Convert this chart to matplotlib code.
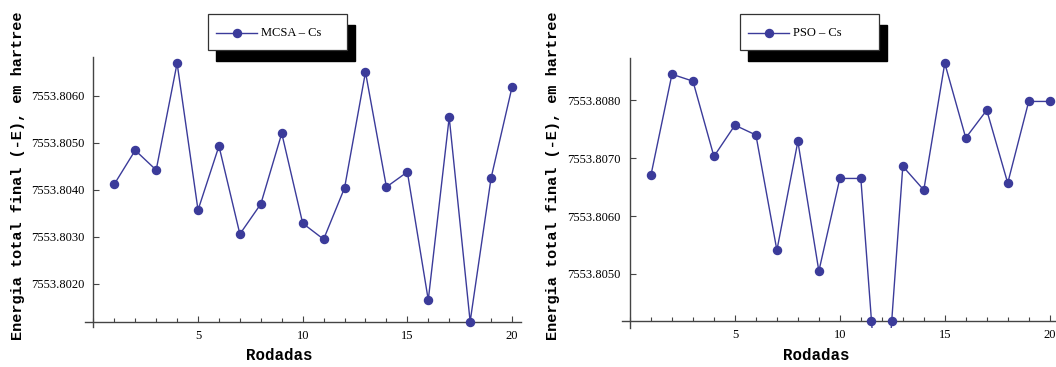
import numpy as np
import matplotlib
matplotlib.use("Agg")
import matplotlib.pyplot as plt
from matplotlib.patches import Rectangle
from matplotlib.lines import Line2D
from matplotlib.ticker import FixedLocator, MultipleLocator, FuncFormatter

# Run index (x) and final total energy (-E, hartree) for each optimiser
rodadas = list(range(1, 21))
mcsa_cs = [7553.80412, 7553.80484, 7553.80442, 7553.80669, 7553.80357,
           7553.80493, 7553.80306, 7553.80370, 7553.80520, 7553.80329,
           7553.80295, 7553.80404, 7553.80650, 7553.80406, 7553.80438,
           7553.80166, 7553.80554, 7553.80120, 7553.80425, 7553.80618]
pso_cs = [7553.80671, 7553.80845, 7553.80833, 7553.80703, 7553.80757,
          7553.80740, 7553.80541, 7553.80729, 7553.80505, 7553.80665,
          7553.80665, 7553.80180, 7553.80686, 7553.80645, 7553.80864,
          7553.80735, 7553.80783, 7553.80657, 7553.80798, 7553.80798]
mcsa_yticks = [7553.8020, 7553.8030, 7553.8040, 7553.8050, 7553.8060]
pso_yticks = [7553.8050, 7553.8060, 7553.8070, 7553.8080]
xticks = [5, 10, 15, 20]
series_labels = ["MCSA \u2013 Cs", "PSO \u2013 Cs"]
ylabel = "Energia total final (-E), em hartree"
xlabel = "Rodadas"

W, H = 1056, 367
fig = plt.figure(figsize=(W / 100, H / 100), dpi=100)

COLOR = "#3b3b9a"
AXCOL = "#444444"
SERIF = "Liberation Serif"
MONO = "Liberation Mono"
MS = 5.8


def px_axes(left, top, right, bottom):
    return fig.add_axes([left / W, 1 - bottom / H, (right - left) / W, (bottom - top) / H])


def panel(ax, x, y, ylim, yaxis_at, yticks, xlim):
    x = np.asarray(x, float)
    y = np.asarray(y, float)
    ax.set_xlim(*xlim)
    ax.set_ylim(*ylim)
    ax.plot(x, y, color=COLOR, lw=1.0, zorder=3, clip_on=True)
    # markers for points in range, plus markers where the line leaves the range
    inside = y >= yaxis_at - 1e-9
    mx = list(x[inside])
    my = list(y[inside])
    for i in range(len(x) - 1):
        a, b = y[i] - yaxis_at, y[i + 1] - yaxis_at
        if a * b < 0:
            t = a / (a - b)
            mx.append(x[i] + t * (x[i + 1] - x[i]))
            my.append(yaxis_at)
    ax.plot(mx, my, ls="none", marker="o", ms=MS, color=COLOR, mec=COLOR,
            zorder=4, clip_on=False)

    for s in ("top", "right"):
        ax.spines[s].set_visible(False)
    ax.spines["left"].set_position(("data", 0))
    ax.spines["bottom"].set_position(("data", yaxis_at))
    for s in ("left", "bottom"):
        ax.spines[s].set_color(AXCOL)
        ax.spines[s].set_linewidth(1.0)
    ax.patch.set_visible(False)

    ax.xaxis.set_major_locator(FixedLocator(xticks))
    ax.xaxis.set_minor_locator(MultipleLocator(1))
    ax.yaxis.set_major_locator(FixedLocator(yticks))
    ax.yaxis.set_major_formatter(FuncFormatter(lambda v, p: f"{v:.4f}"))
    ax.tick_params(axis="x", which="major", direction="in", length=4.3, width=0.8,
                   color=AXCOL, pad=6, labelsize=9)
    ax.tick_params(axis="x", which="minor", direction="in", length=2.6, width=0.8,
                   color=AXCOL)
    ax.tick_params(axis="y", which="major", direction="in", length=4.3, width=0.8,
                   color=AXCOL, pad=6.5, labelsize=9)
    for lab in ax.get_xticklabels() + ax.get_yticklabels():
        lab.set_fontfamily(SERIF)


def legend_box(left, top, label):
    w, h = 139, 36
    # drop shadow
    fig.patches.append(Rectangle(((left + 8) / W, 1 - (top + h + 11) / H), w / W, h / H,
                                 transform=fig.transFigure, facecolor="black",
                                 edgecolor="black", zorder=5))
    fig.patches.append(Rectangle((left / W, 1 - (top + h) / H), w / W, h / H,
                                 transform=fig.transFigure, facecolor="white",
                                 edgecolor="#333333", lw=0.9, zorder=6))
    yc = 1 - (top + 19) / H
    fig.lines.append(Line2D([(left + 8) / W, (left + 49) / W], [yc, yc],
                            transform=fig.transFigure, color=COLOR, lw=1.0, zorder=7))
    fig.lines.append(Line2D([(left + 29) / W], [yc], transform=fig.transFigure,
                            color=COLOR, marker="o", ms=MS, zorder=8))
    fig.text((left + 53) / W, yc, label, fontsize=9, family=SERIF,
             va="center", ha="left", zorder=8)


# left panel
ax1 = px_axes(85, 57.3, 521, 326.7)
panel(ax1, rodadas, mcsa_cs, (7553.801093, 7553.806815), 7553.80120,
      mcsa_yticks, (-0.40, 20.43))
# right panel
ax2 = px_axes(621.6, 58.3, 1056, 328.3)
panel(ax2, rodadas, pso_cs, (7553.804062, 7553.808725), 7553.80419,
      pso_yticks, (-0.40, 20.30))

legend_box(208, 14, series_labels[0])
legend_box(740, 14, series_labels[1])

for xc, xl in ((18, 279), (553, 816)):
    fig.text(xc / W, 1 - 176 / H, ylabel, rotation=90, fontsize=11,
             family=MONO, weight="bold", ha="center", va="center")
    fig.text(xl / W, 1 - 356 / H, xlabel, fontsize=11.3, family=MONO,
             weight="bold", ha="center", va="center")

fig.savefig("out.png", dpi=100, facecolor="white")
